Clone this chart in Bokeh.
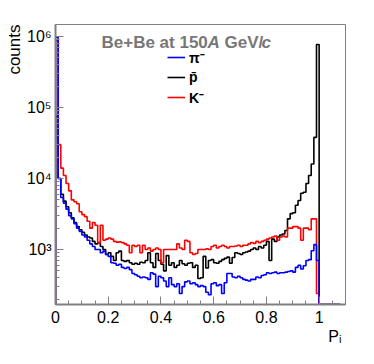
import math
import numpy as np
from bokeh.plotting import figure
from bokeh.models import (Range1d, Label, Legend, LegendItem, SingleIntervalTicker,
                          CustomJSTickFormatter, LogTicker, Title)
from bokeh.embed import file_html
from bokeh.resources import INLINE

# ---------------- data (bin width 0.01, bins from 0 to 1.0) ----------------
bin_width = 0.01
pi_minus = [980000, 10000, 5400, 4500, 3700, 3000, 2700, 2300, 2000, 1800,
            1600, 1500, 1350, 1200, 1100, 1000, 1000, 900, 950, 850,
            800, 650, 640, 600, 620, 560, 540, 560, 520, 460,
            440, 420, 400, 410, 400, 380, 470, 450, 300, 420,
            400, 360, 300, 400, 320, 300, 330, 240, 300, 350,
            360, 330, 340, 320, 300, 310, 300, 250, 230, 330,
            340, 310, 320, 240, 340, 460, 460, 410, 400, 420,
            400, 380, 370, 360, 380, 380, 410, 400, 430, 440,
            470, 460, 470, 480, 460, 470, 470, 480, 490, 500,
            480, 560, 600, 530, 590, 700, 720, 960, 1170, 700]
pbar = [75000, 10000, 6000, 4800, 4000, 3300, 2800, 2400, 2100, 1900,
        1750, 1600, 1500, 1450, 1300, 1200, 1250, 1100, 1000, 850,
        900, 800, 700, 900, 950, 700, 680, 700, 650, 620,
        640, 620, 660, 650, 700, 900, 650, 560, 880, 700,
        620, 500, 820, 600, 650, 560, 600, 700, 630, 600,
        640, 650, 560, 600, 390, 400, 800, 550, 700, 720,
        650, 640, 680, 720, 750, 780, 640, 770, 900, 880,
        850, 900, 920, 950, 1000, 1050, 1000, 1100, 1050, 1150,
        1300, 700, 1400, 1300, 1500, 1600, 1650, 1850, 2700, 3200,
        3300, 4200, 4900, 6200, 6400, 8500, 11000, 16000, 38000, 770000]
k_minus = [870000, 30000, 14000, 11000, 8500, 6700, 5000, 4700, 4400, 3400,
           3100, 2900, 2500, 2000, 2400, 2200, 1250, 2200, 1350, 1400,
           1450, 1400, 1300, 1270, 1280, 1250, 1200, 1150, 900, 1150,
           1100, 1150, 900, 1150, 1000, 1050, 950, 1000, 1050, 1000,
           650, 1000, 1000, 1000, 1000, 1000, 1200, 1050, 1000, 1350,
           1300, 900, 850, 880, 1000, 1000, 1000, 1020, 1000, 1100,
           1150, 1050, 1100, 1150, 1100, 1050, 1100, 1100, 1120, 1150,
           1100, 1150, 1150, 1200, 1250, 1220, 1300, 1250, 1300, 1350,
           1400, 1450, 1500, 1550, 1350, 1500, 1550, 1500, 2000, 2000,
           2100, 2100, 2000, 1350, 2000, 2000, 1900, 2700, 2700, 240]
n_empty_bins = 8  # empty bins after P_i = 1

x_ticks = [0, 0.2, 0.4, 0.6, 0.8, 1.0]
x_tick_labels = ["0", "0.2", "0.4", "0.6", "0.8", "1"]
legend_labels = ["\u03c0\u207b", "p\u0304", "K\u207b"]

# ---------------- figure ----------------
XMIN, XMAX = 0.0, 1.1
YMIN, YMAX = 168.0, 1.476e6
W, H = 366, 356
BL, BR, BT, BB = 55, 21, 24, 52
FW, FH = W - BL - BR, H - BT - BB
OFF = 0  # figure sits at the page's top-left corner

p = figure(width=W, height=H, x_range=Range1d(XMIN, XMAX), y_range=Range1d(YMIN, YMAX),
           y_axis_type="log", output_backend="svg", toolbar_location=None,
           min_border_left=BL, min_border_right=BR, min_border_top=BT, min_border_bottom=BB)
p.grid.visible = False
p.outline_line_color = "#808080"
p.outline_line_width = 1
p.background_fill_color = "white"
p.border_fill_color = "white"

GREY = "#808080"
FONT = "Liberation Sans"

# x axis
xa = p.xaxis[0]
xa.ticker = SingleIntervalTicker(interval=0.2, num_minor_ticks=4)
xa.major_label_overrides = {t: s for t, s in zip(x_ticks, x_tick_labels)}
xa.axis_line_color = GREY
xa.axis_line_width = 2
xa.major_tick_line_color = GREY
xa.minor_tick_line_color = GREY
xa.major_tick_in = 8
xa.major_tick_out = 0
xa.minor_tick_in = 4
xa.minor_tick_out = 0
xa.major_label_text_font = FONT
xa.major_label_text_font_size = "16px"
xa.major_label_text_color = "black"
xa.major_label_standoff = 6

# y axis
ya = p.yaxis[0]
ya.ticker = LogTicker(num_minor_ticks=10)
ya.formatter = CustomJSTickFormatter(code="""
const sup = {"-":"\u207b","0":"\u2070","1":"\u00b9","2":"\u00b2","3":"\u00b3","4":"\u2074",
             "5":"\u2075","6":"\u2076","7":"\u2077","8":"\u2078","9":"\u2079"};
const e = Math.round(Math.log10(tick));
return "10" + String(e).split("").map(c => sup[c]).join("");
""")
ya.axis_line_color = GREY
ya.axis_line_width = 2
ya.major_tick_line_color = GREY
ya.minor_tick_line_color = GREY
ya.major_tick_in = 8
ya.major_tick_out = 0
ya.minor_tick_in = 4
ya.minor_tick_out = 0
ya.major_label_text_font = FONT
ya.major_label_text_font_size = "16px"
ya.major_label_text_color = "black"
ya.major_label_standoff = 4

# axis titles, aligned to the far ends as in ROOT
p.add_layout(Title(text="P\u1d62", align="right", text_font=FONT, text_font_size="16px",
                   text_font_style="normal", text_color="black", standoff=0, offset=4), "below")
p.add_layout(Title(text="counts", align="right", text_font=FONT, text_font_size="17px",
                   text_font_style="normal", text_color="black", standoff=0, offset=0), "left")

# ---------------- histograms ----------------
n_bins = len(pi_minus) + n_empty_bins
edges = np.round(np.arange(n_bins + 1) * bin_width, 4)


def hist_xy(vals):
    v = np.array(list(vals) + [0] * n_empty_bins, dtype=float)
    v = np.where(v > 0, v, YMIN)  # empty bins drawn at the frame bottom, as ROOT does
    xs = np.concatenate([[edges[0]], edges])
    ys = np.concatenate([[YMIN], v, [v[-1]]])
    return xs, ys


xs, ys = hist_xy(pbar)
r_pbar = p.step(xs, ys, mode="after", line_color="black", line_width=1.6)
xs, ys = hist_xy(k_minus)
r_k = p.step(xs, ys, mode="after", line_color="#ff0000", line_width=1.6)
xs, ys = hist_xy(pi_minus)
r_pi = p.step(xs, ys, mode="after", line_color="#0000ff", line_width=1.6)

# ---------------- legend ----------------
legend = Legend(items=[LegendItem(label=legend_labels[0], renderers=[r_pi]),
                       LegendItem(label=legend_labels[1], renderers=[r_pbar]),
                       LegendItem(label=legend_labels[2], renderers=[r_k])],
                location=(112, 197), orientation="vertical",
                glyph_width=18, glyph_height=20, label_height=20, label_standoff=4,
                spacing=0, padding=0, margin=0,
                border_line_color=None, background_fill_alpha=0,
                label_text_font=FONT, label_text_font_size="14px",
                label_text_line_height=1.0,
                label_text_font_style="bold", label_text_color="black")
p.add_layout(legend, "center")


# ---------------- texts (page pixel positions converted to data) ----------------
def dx(px):
    return XMIN + (px - OFF - BL) / FW * (XMAX - XMIN)


def dy(py):
    lt, lb = math.log10(YMAX), math.log10(YMIN)
    return 10 ** (lt - (py - OFF - BT) / FH * (lt - lb))


title_parts = [("Be+Be at 150", "bold", 101), ("A", "bold italic", 207),
               ("GeV/", "bold", 224), ("c", "bold italic", 261)]
for txt, style, px in title_parts:
    p.add_layout(Label(x=dx(px), y=dy(42), text=txt, text_font=FONT, text_font_size="17px",
                       text_font_style=style, text_color="#777777",
                       text_align="left", text_baseline="alphabetic"))

open("out.html", "w").write(file_html(p, INLINE))
